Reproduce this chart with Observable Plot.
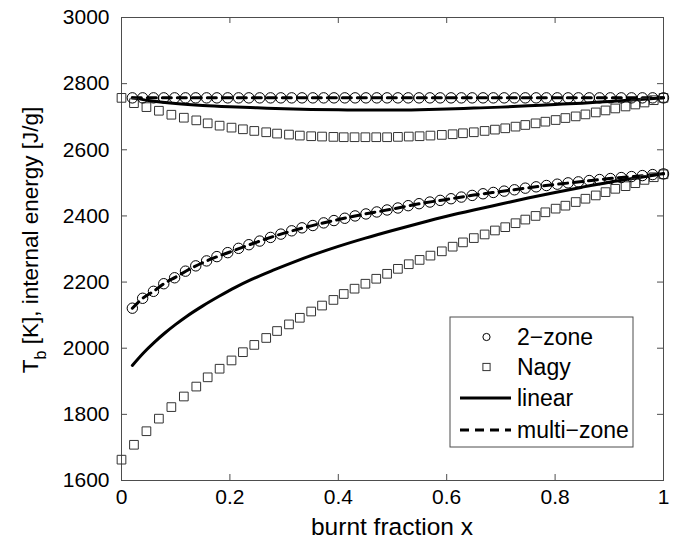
<!DOCTYPE html>
<html>
<head>
<meta charset="utf-8">
<script src="https://cdn.jsdelivr.net/npm/d3@7"></script>
<script src="https://cdn.jsdelivr.net/npm/@observablehq/plot@0.6"></script>
<style>
  html, body { margin: 0; padding: 0; background: white; }
</style>
</head>
<body>
<div id="chart"></div>
<script>
// ---- Data ----
const xTicks = [0, 0.2, 0.4, 0.6, 0.8, 1];
const yTicks = [1600, 1800, 2000, 2200, 2400, 2600, 2800, 3000];

// 2-zone (circles)
const twoZoneX = [0.020, 0.039, 0.059, 0.078, 0.098, 0.118, 0.137, 0.157, 0.176, 0.196,
  0.216, 0.235, 0.255, 0.275, 0.294, 0.314, 0.333, 0.353, 0.373, 0.392,
  0.412, 0.431, 0.451, 0.471, 0.490, 0.510, 0.529, 0.549, 0.569, 0.588,
  0.608, 0.627, 0.647, 0.667, 0.686, 0.706, 0.725, 0.745, 0.765, 0.784,
  0.804, 0.824, 0.843, 0.863, 0.882, 0.902, 0.922, 0.941, 0.961, 0.980, 1.000];
const twoZoneUpper = [2757, 2757, 2757, 2757, 2757, 2757, 2757, 2757, 2757, 2757,
  2757, 2757, 2757, 2757, 2757, 2757, 2757, 2757, 2757, 2757,
  2757, 2757, 2757, 2757, 2757, 2757, 2757, 2757, 2757, 2757,
  2757, 2757, 2757, 2757, 2757, 2757, 2757, 2757, 2757, 2757,
  2757, 2757, 2757, 2757, 2757, 2757, 2757, 2757, 2757, 2757, 2757];
const twoZoneLower = [2121, 2151, 2172, 2195, 2213, 2233, 2249, 2264, 2277, 2289,
  2302, 2313, 2324, 2335, 2345, 2355, 2364, 2371, 2379, 2386,
  2393, 2400, 2406, 2412, 2418, 2424, 2431, 2437, 2442, 2447,
  2452, 2457, 2462, 2467, 2471, 2475, 2479, 2484, 2488, 2492,
  2496, 2500, 2503, 2507, 2510, 2513, 2516, 2519, 2522, 2525, 2527];

// Nagy (squares)
const nagyX = [0, 0.023, 0.046, 0.069, 0.092, 0.115, 0.138, 0.159, 0.181, 0.203,
  0.224, 0.245, 0.267, 0.287, 0.309, 0.329, 0.350, 0.370, 0.391, 0.410,
  0.430, 0.450, 0.470, 0.490, 0.510, 0.530, 0.550, 0.570, 0.591, 0.611,
  0.630, 0.650, 0.670, 0.689, 0.708, 0.727, 0.745, 0.764, 0.782, 0.801,
  0.819, 0.838, 0.856, 0.875, 0.893, 0.911, 0.930, 0.948, 0.965, 0.982, 1.000];
const nagyUpper = [2757, 2741, 2729, 2718, 2706, 2697, 2689, 2680, 2673, 2667,
  2662, 2657, 2653, 2649, 2646, 2643, 2641, 2640, 2639, 2638,
  2638, 2638, 2638, 2638, 2639, 2640, 2641, 2643, 2645, 2647,
  2650, 2653, 2657, 2661, 2665, 2670, 2675, 2680, 2685, 2690,
  2696, 2701, 2707, 2713, 2719, 2725, 2731, 2737, 2743, 2750, 2757];
const nagyLower = [1663, 1708, 1749, 1787, 1822, 1854, 1884, 1912, 1938, 1963,
  1988, 2010, 2031, 2052, 2072, 2092, 2111, 2129, 2146, 2164,
  2180, 2195, 2210, 2225, 2240, 2254, 2267, 2280, 2293, 2307,
  2320, 2333, 2344, 2356, 2366, 2378, 2389, 2400, 2411, 2422,
  2431, 2442, 2452, 2462, 2472, 2482, 2490, 2499, 2509, 2517, 2526];

// linear (solid line)
const linearUpperX = [0.02, 0.05, 0.1, 0.15, 0.2, 0.25, 0.3, 0.35, 0.4, 0.45, 0.5,
  0.55, 0.6, 0.65, 0.7, 0.75, 0.8, 0.85, 0.9, 0.95, 1.0];
const linearUpper = [2757, 2749, 2740, 2734, 2730, 2727, 2724, 2722, 2721, 2720, 2720,
  2721, 2723, 2726, 2729, 2733, 2737, 2741, 2746, 2751, 2757];
const linearLowerX = [0.02, 0.04, 0.06, 0.08, 0.10, 0.12, 0.15, 0.18, 0.21, 0.24, 0.28,
  0.32, 0.36, 0.40, 0.45, 0.50, 0.55, 0.60, 0.65, 0.70, 0.75, 0.80, 0.85, 0.90, 0.95, 1.00];
const linearLower = [1948, 1985, 2017, 2046, 2072, 2096, 2128, 2157, 2184, 2208, 2236,
  2262, 2286, 2308, 2333, 2356, 2378, 2399, 2418, 2436, 2454, 2471, 2487, 2502, 2515, 2528];

// multi-zone (dashed line)
const multiZoneX = [0.02, 0.04, 0.06, 0.08, 0.10, 0.13, 0.16, 0.20, 0.25, 0.30, 0.35, 0.40,
  0.45, 0.50, 0.55, 0.60, 0.65, 0.70, 0.75, 0.80, 0.85, 0.90, 0.95, 1.00];
const multiZoneUpper = [2757, 2757, 2757, 2757, 2757, 2757, 2757, 2757, 2757, 2757, 2757, 2757,
  2757, 2757, 2757, 2757, 2757, 2757, 2757, 2757, 2757, 2757, 2757, 2757];
const multiZoneLower = [2121, 2152, 2173, 2197, 2215, 2243, 2266, 2291, 2321, 2348, 2370, 2389,
  2406, 2421, 2437, 2450, 2463, 2474, 2485, 2495, 2504, 2513, 2520, 2527];

const legendLabels = ["2\u2212zone", "Nagy", "linear", "multi\u2212zone"];

// ---- Build tables ----
const pts = (xs, ys) => xs.map((x, i) => ({x, y: ys[i]}));

const FONT = "'Liberation Sans', Arial, Helvetica, sans-serif";
const W = 676, H = 541;
const mL = 121, mR = 13, mT = 17, mB = 61;
const innerW = W - mL - mR, innerH = H - mT - mB;
const TICK = 6;
const AX = "#4d4d4d";
const DASH = "9,6";

const svg = Plot.plot({
  width: W, height: H,
  marginLeft: mL, marginRight: mR, marginTop: mT, marginBottom: mB,
  style: {fontFamily: FONT, color: "black", background: "white", overflow: "visible"},
  x: {domain: [0, 1]},
  y: {domain: [1600, 3000]},
  marks: [
    Plot.axisX({ticks: xTicks, tickSize: 0, tickPadding: 9, fontSize: 21, label: null, tickFormat: d => String(d)}),
    Plot.axisY({ticks: yTicks, tickSize: 0, tickPadding: 12, fontSize: 21, label: null, tickFormat: d => String(d)}),
    // inward ticks on all four sides
    Plot.tickX(xTicks, {x: d => d, insetTop: innerH - TICK, stroke: AX}),
    Plot.tickX(xTicks, {x: d => d, insetBottom: innerH - TICK, stroke: AX}),
    Plot.tickY(yTicks, {y: d => d, insetRight: innerW - TICK, stroke: AX}),
    Plot.tickY(yTicks, {y: d => d, insetLeft: innerW - TICK, stroke: AX}),
    Plot.frame({stroke: AX}),
    // linear
    Plot.line(pts(linearUpperX, linearUpper), {x: "x", y: "y", stroke: "black", strokeWidth: 3, curve: "monotone-x"}),
    Plot.line(pts(linearLowerX, linearLower), {x: "x", y: "y", stroke: "black", strokeWidth: 3, curve: "monotone-x"}),
    // multi-zone
    Plot.line(pts(multiZoneX, multiZoneUpper), {x: "x", y: "y", stroke: "black", strokeWidth: 3, strokeDasharray: DASH, curve: "monotone-x"}),
    Plot.line(pts(multiZoneX, multiZoneLower), {x: "x", y: "y", stroke: "black", strokeWidth: 3, strokeDasharray: DASH, curve: "monotone-x"}),
    // Nagy
    Plot.dot(pts(nagyX, nagyUpper), {x: "x", y: "y", symbol: "square", r: 4.9, stroke: "#333", fill: "none", strokeWidth: 1}),
    Plot.dot(pts(nagyX, nagyLower), {x: "x", y: "y", symbol: "square", r: 4.9, stroke: "#333", fill: "none", strokeWidth: 1}),
    // 2-zone
    Plot.dot(pts(twoZoneX, twoZoneUpper), {x: "x", y: "y", symbol: "circle", r: 5.2, stroke: "black", fill: "none", strokeWidth: 1}),
    Plot.dot(pts(twoZoneX, twoZoneLower), {x: "x", y: "y", symbol: "circle", r: 5.2, stroke: "black", fill: "none", strokeWidth: 1})
  ]
});

document.getElementById("chart").appendChild(svg);

const s = d3.select(svg);

// x-axis label
s.append("text")
  .attr("x", mL + innerW / 2).attr("y", 535)
  .attr("text-anchor", "middle")
  .attr("font-family", FONT).attr("font-size", 24.5).attr("fill", "black")
  .text("burnt fraction x");

// y-axis label with subscript
const yl = s.append("text")
  .attr("transform", `translate(38,240) rotate(-90)`)
  .attr("text-anchor", "middle")
  .attr("font-family", FONT).attr("font-size", 22.5).attr("fill", "black");
yl.append("tspan").text("T");
yl.append("tspan").attr("dy", 8).attr("font-size", 16).text("b");
yl.append("tspan").attr("dy", -8).text(" [K], internal energy [J/g]");

// legend
const lg = s.append("g").attr("font-family", FONT).attr("font-size", 23).attr("text-anchor", "start");
const bx = 450, by = 317, bw = 183, bh = 130;
lg.append("rect").attr("x", bx).attr("y", by).attr("width", bw).attr("height", bh)
  .attr("fill", "white").attr("stroke", AX).attr("stroke-width", 1);
const rows = [337, 367, 398, 430];
const symX = 486.5, lineX1 = 460, lineX2 = 511, textX = 517;
lg.append("circle").attr("cx", symX).attr("cy", rows[0]).attr("r", 3.6)
  .attr("fill", "none").attr("stroke", "black").attr("stroke-width", 1);
lg.append("rect").attr("x", symX - 3.6).attr("y", rows[1] - 3.6).attr("width", 7.2).attr("height", 7.2)
  .attr("fill", "none").attr("stroke", "#333").attr("stroke-width", 1);
lg.append("line").attr("x1", lineX1).attr("x2", lineX2).attr("y1", rows[2]).attr("y2", rows[2])
  .attr("stroke", "black").attr("stroke-width", 3);
lg.append("line").attr("x1", lineX1).attr("x2", lineX2).attr("y1", rows[3]).attr("y2", rows[3])
  .attr("stroke", "black").attr("stroke-width", 3).attr("stroke-dasharray", DASH);
legendLabels.forEach((t, i) => {
  lg.append("text").attr("x", textX).attr("y", rows[i]).attr("dy", "0.35em")
    .attr("text-anchor", "start").attr("fill", "black").text(t);
});
</script>
</body>
</html>
